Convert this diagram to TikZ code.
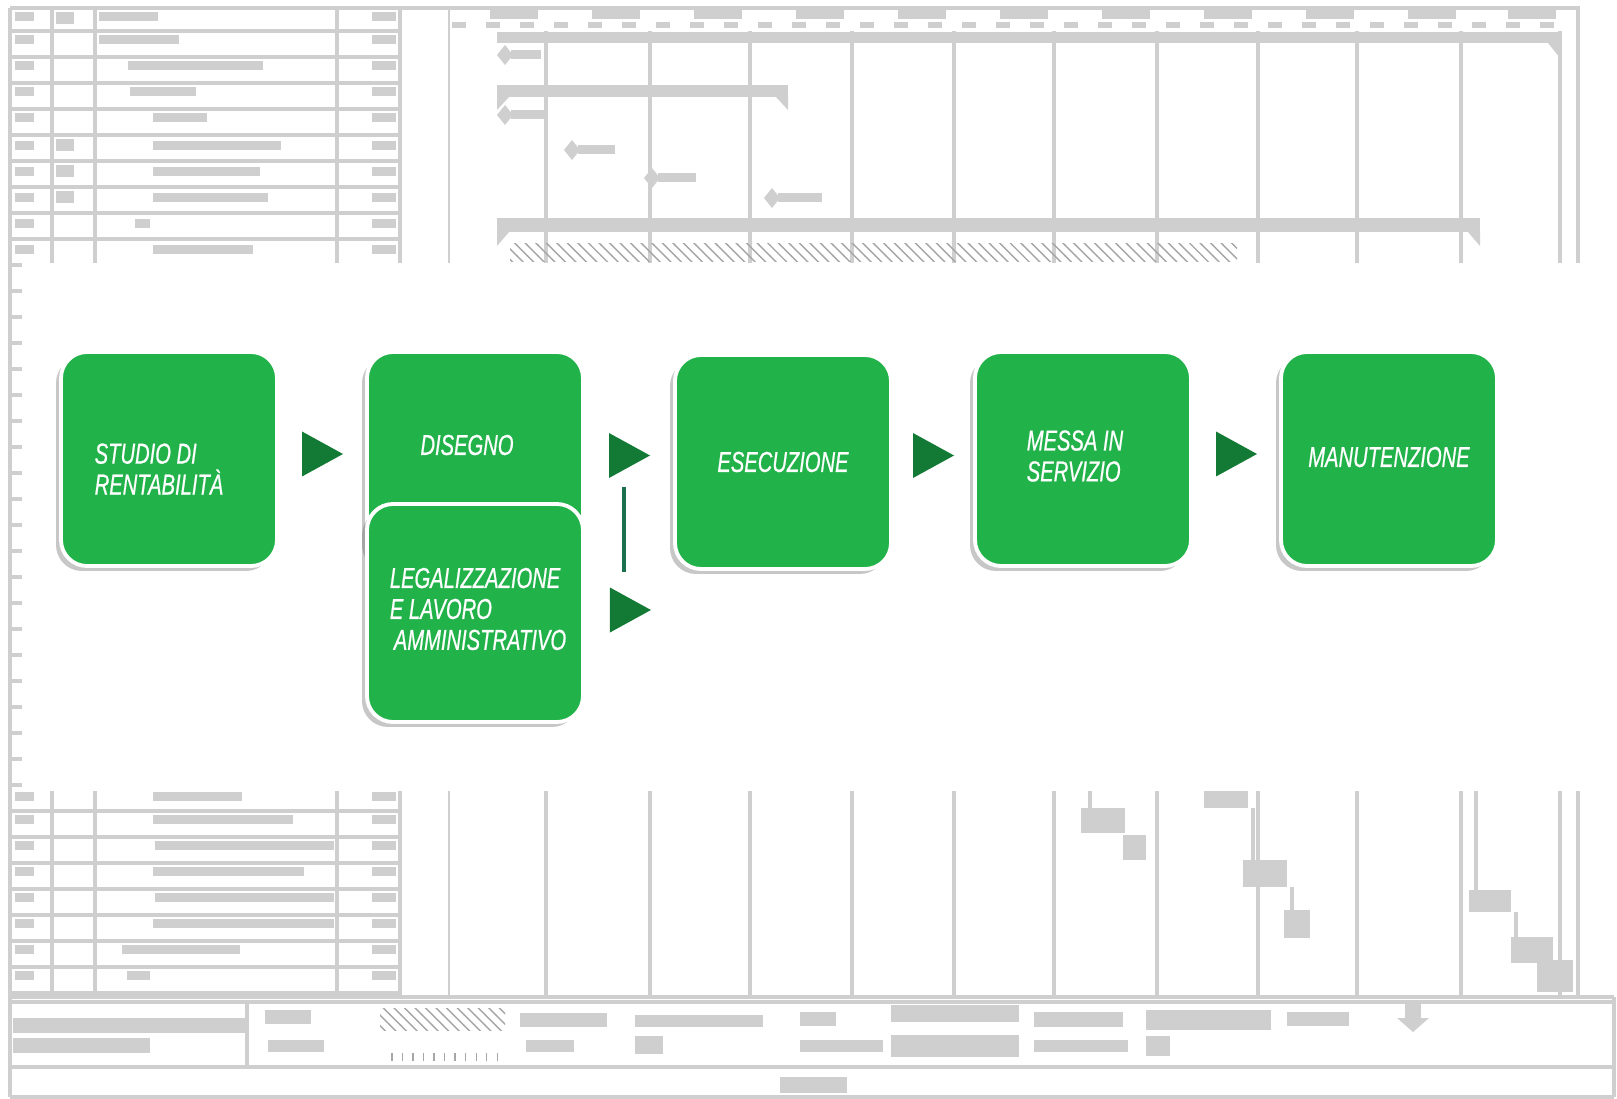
\documentclass[tikz,border=0pt]{standalone}
\usepackage{fontspec}
\newfontfamily\phasefont[FakeStretch=0.70,FakeBold=0.6]{Liberation Sans}
\usetikzlibrary{calc}
\usetikzlibrary{positioning}
\usetikzlibrary{shadows}
\usetikzlibrary{patterns}

\definecolor{gantt}{RGB}{207,207,207}
\definecolor{phasegreen}{RGB}{34,178,74}
\definecolor{tipgreen}{RGB}{18,122,52}
\definecolor{linkgreen}{RGB}{28,112,78}

\begin{document}
\begin{tikzpicture}[x=0.1mm,y=-0.1mm]
  \tikzstyle{ganttline}=[draw=gantt,line width=1pt]
  \tikzstyle{blob}=[fill=gantt]
  \tikzstyle{phasebox}=[rectangle,rounded corners=2.6mm,fill=phasegreen,draw=white,line width=1.1pt,
    minimum width=21.6mm,minimum height=21.4mm,
    drop shadow={shadow xshift=-0.5mm,shadow yshift=-0.5mm,opacity=0.4,fill=black!55}]
  \tikzstyle{phasetext}=[text=white,align=left,inner sep=0pt,font=\phasefont\itshape\fontsize{8.2}{8.8}\selectfont]
  \tikzstyle{arrowtip}=[fill=tipgreen]
  \tikzstyle{linkline}=[draw=linkgreen,line width=1pt]

  \useasboundingbox (0,0) rectangle (1617,1099);
  \fill[white] (0,0) rectangle (1617,1099);

  % faded gantt chart behind the diagram
  \begin{scope}[style=ganttline]
    \draw (10,8) -- (1578,8) -- (1578,997);
    \foreach \x in {10,52,95,337,400}
      \draw (\x,8) -- (\x,997);
    \foreach \k in {0,...,37}
      \draw (10,31+26*\k) -- (400,31+26*\k);
    \draw[line width=0.6pt] (449,8) -- (449,997);
    \foreach \x in {546,650,750,852,954,1054,1157,1258,1357,1461,1560}
      \draw (\x,31) -- (\x,997);
    % table texts
    \foreach \a/\b/\y in {99/158/12, 99/179/35, 128/263/61, 130/196/87, 153/207/113, 153/281/141,
        153/260/167, 153/268/193, 135/150/219, 153/253/245, 153/242/792, 153/293/815, 155/334/841,
        153/304/867, 155/334/893, 153/334/919, 122/240/945, 127/150/971}
      {\fill[blob] (\a,\y) rectangle (\b,\y+9);
       \fill[blob] (15,\y) rectangle (34,\y+9);
       \fill[blob] (372,\y) rectangle (396,\y+9);}
    \foreach \y in {12,139,165,191}
      \fill[blob] (56,\y) rectangle (74,\y+12);
    % timescale
    \foreach \x in {490,592,694,796,898,1000,1102,1204,1306,1408,1508}
      \fill[blob] (\x,10) rectangle (\x+48,19);
    \foreach \x in {452,486,...,1550}
      \fill[blob] (\x,22) rectangle (\x+14,28);
    % bars
    \fill[blob] (497,32) rectangle (1560,43);
    \fill[blob] (1548,43) -- (1560,43) -- (1560,58) -- cycle;
    \fill[blob] (497,85) rectangle (788,97);
    \fill[blob] (497,97) -- (509,97) -- (497,110) -- cycle;
    \fill[blob] (776,97) -- (788,97) -- (788,110) -- cycle;
    \fill[blob] (497,218) rectangle (1480,232);
    \fill[blob] (497,232) -- (509,232) -- (497,246) -- cycle;
    \fill[blob] (1468,232) -- (1480,232) -- (1480,246) -- cycle;
    \fill[pattern=north west lines,pattern color=gantt!80!black] (510,244) rectangle (1237,262);
    \foreach \x/\y/\w in {505/55/36, 505/115/40, 572/150/43, 652/178/44, 772/198/50}
      {\fill[blob] (\x-8,\y) -- (\x,\y-10) -- (\x+8,\y) -- (\x,\y+10) -- cycle;
       \fill[blob] (\x+6,\y-5) rectangle (\x+\w,\y+4);}
    \draw (1090,791) -- (1090,808);
    \fill[blob] (1081,808) rectangle (1125,833);
    \fill[blob] (1123,835) rectangle (1146,860);
    \fill[blob] (1204,791) rectangle (1248,808);
    \draw (1253,808) -- (1253,860);
    \fill[blob] (1243,860) rectangle (1287,887);
    \draw (1292,887) -- (1292,910);
    \fill[blob] (1284,910) rectangle (1310,938);
    \draw (1476,791) -- (1476,890);
    \fill[blob] (1469,890) rectangle (1511,912);
    \draw (1516,912) -- (1516,937);
    \fill[blob] (1511,937) rectangle (1553,963);
    \fill[blob] (1537,960) rectangle (1573,992);
    % legend and footer
    \draw (10,997) -- (1614,997);
    \draw (10,1002) -- (1614,1002);
    \draw (10,1067) -- (1614,1067);
    \draw (10,1097) -- (1614,1097);
    \draw (10,997) -- (10,1097);
    \draw (1614,997) -- (1614,1097);
    \draw (247,1002) -- (247,1067);
    \fill[blob] (13,1018) rectangle (245,1033);
    \fill[blob] (13,1038) rectangle (150,1053);
    \foreach \a/\b/\y/\h in {265/311/1010/14, 520/607/1013/14, 635/763/1015/12, 800/836/1012/14,
        891/1019/1005/17, 1034/1123/1012/15, 1146/1271/1010/20, 1287/1349/1012/14,
        268/324/1040/12, 526/574/1040/12, 635/663/1036/18, 800/883/1040/12, 891/1019/1035/22,
        1034/1128/1040/12, 1146/1170/1036/20, 780/847/1077/16}
      \fill[blob] (\a,\y) rectangle (\b,\y+\h);
    \fill[pattern=north west lines,pattern color=gantt!80!black] (380,1008) rectangle (505,1030);
    \fill[pattern=vertical lines,pattern color=gantt!80!black] (383,1053) rectangle (502,1060);
    \fill[blob] (1405,1003) rectangle (1421,1018);
    \fill[blob] (1397,1018) -- (1429,1018) -- (1413,1032) -- cycle;
  \end{scope}
  \fill[white] (22,263) rectangle (1617,791);

  % phases
  \node[phasebox] (studio) at (169,459) {};
  \node[phasebox] (disegno) at (475,459) {};
  \node[phasebox,minimum height=21.8mm] (legal) at (475,613) {};
  \node[phasebox] (esec) at (783,462) {};
  \node[phasebox] (messa) at (1083,459) {};
  \node[phasebox] (manut) at (1389,459) {};

  \node[phasetext] (studiot) at ($(studio)+(-10,10)$) {STUDIO DI\\RENTABILITÀ};
  \node[phasetext] (disegnot) at ($(disegno)+(-8,-14)$) {DISEGNO};
  \node[phasetext] (legalt) at ($(legal)+(3,-4)$) {LEGALIZZAZIONE\\E LAVORO\\\hspace*{0.4mm}AMMINISTRATIVO};
  \node[phasetext] (esect) at (esec) {ESECUZIONE};
  \node[phasetext] (messat) at ($(messa)+(-8,-3)$) {MESSA IN\\SERVIZIO};
  \node[phasetext] (manutt) at ($(manut)+(0,-2)$) {MANUTENZIONE};

  % arrows between phases
  \coordinate (tip1) at ($(studio.east)!0.5!(disegno.west)+(0,-5)$);
  \coordinate (tip2) at ($(disegno.east)!0.5!(esec.west)+(0,-5)$);
  \coordinate (tip3) at ($(legal.east)+(45,-3)$);
  \coordinate (tip4) at ($(esec.east)!0.5!(messa.west)+(0,-5)$);
  \coordinate (tip5) at ($(messa.east)!0.5!(manut.west)+(0,-5)$);
  \foreach \t in {tip1,tip2,tip3,tip4,tip5}
    \fill[arrowtip] (\t) +(-20,-22.5) -- +(21,0) -- +(-20,22.5) -- cycle;
  \draw[linkline] ($(tip2)+(-5,32)$) -- ++(0,84);
\end{tikzpicture}
\end{document}
